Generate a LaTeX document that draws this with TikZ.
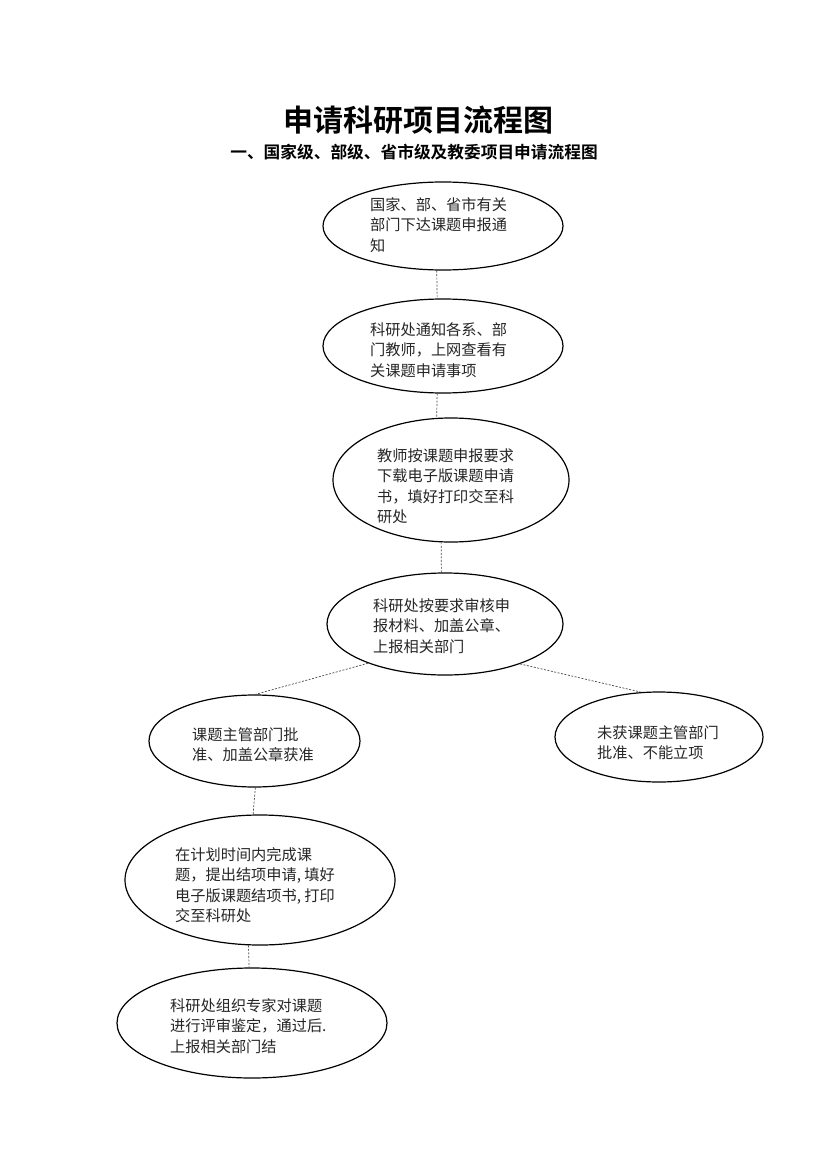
\documentclass[tikz,border=0pt]{standalone}
\usepackage{fontspec}
\usetikzlibrary{shapes.geometric}
\newfontfamily\cjk{Noto Sans CJK SC}[BoldFont={Noto Sans CJK SC Bold}]
\tikzset{
  ell/.style={ellipse, draw=black, line width=1.2pt, inner sep=0pt},
  txt/.style={anchor=north west, inner sep=0pt, align=left, font=\cjk\fontsize{15.2}{20.5}\selectfont, text=black!85},
  conn/.style={draw=black!70, line width=0.7pt, dash pattern=on 2pt off 1.5pt},
}
\begin{document}
\begin{tikzpicture}[x=1pt,y=-1pt]
\useasboundingbox[fill=white] (0,0) rectangle (830,1174);
\node[font=\cjk\bfseries\fontsize{30}{32}\selectfont, inner sep=0pt] (title) at (418,120) {申请科研项目流程图};
\node[font=\cjk\bfseries\fontsize{16.7}{20}\selectfont, inner sep=0pt] (sub) at (414,152) {一、国家级、部级、省市级及教委项目申请流程图};

\node[ell, minimum width=240pt, minimum height=88pt] (e1) at (443,226) {};
\node[ell, minimum width=240pt, minimum height=94pt] (e2) at (443,346) {};
\node[ell, minimum width=236pt, minimum height=124pt] (e3) at (451,480) {};
\node[ell, minimum width=236pt, minimum height=102pt] (e4) at (445,624) {};
\node[ell, minimum width=211pt, minimum height=92pt] (e5) at (254.5,741) {};
\node[ell, minimum width=208pt, minimum height=90pt] (e6) at (659,737) {};
\node[ell, minimum width=270pt, minimum height=130pt] (e7) at (260,880) {};
\node[ell, minimum width=270pt, minimum height=110pt] (e8) at (252,1023) {};

\node[txt] (t1) at (370,197) {国家、部、省市有关\\部门下达课题申报通\\知};
\node[txt] (t2) at (370,322) {科研处通知各系、部\\门教师，上网查看有\\关课题申请事项};
\node[txt] (t3) at (377,448) {教师按课题申报要求\\下载电子版课题申请\\书，填好打印交至科\\研处};
\node[txt] (t4) at (373,598) {科研处按要求审核申\\报材料、加盖公章、\\上报相关部门};
\node[txt] (t5) at (192,727) {课题主管部门批\\准、加盖公章获准};
\node[txt] (t6) at (597,725) {未获课题主管部门\\批准、不能立项};
\node[txt] (t7) at (175,847) {在计划时间内完成课\\题，提出结项申请, 填好\\电子版课题结项书, 打印\\交至科研处};
\node[txt] (t8) at (170,998) {科研处组织专家对课题\\进行评审鉴定，通过后.\\上报相关部门结};

\draw[conn] (e1.262) -- (e2.97);
\draw[conn] (e2.263) -- (e3.103);
\draw[conn] (e3.261) -- (e4.94);
\draw[conn] (e4.207) -- (e5.89);
\draw[conn] (e4.332) -- (e6.112);
\draw[conn] (e5.271) -- (e7.96);
\draw[conn] (e7.260) -- (e8.93);
\end{tikzpicture}
\end{document}
